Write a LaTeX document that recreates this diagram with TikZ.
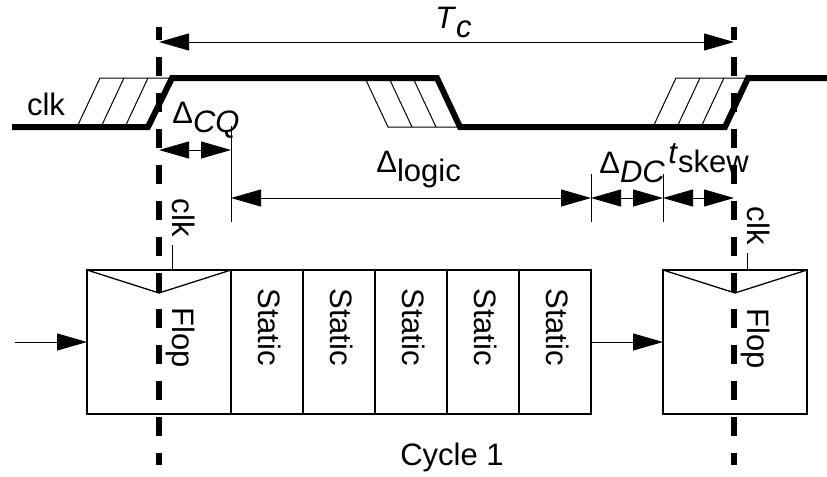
\documentclass[tikz,border=0pt]{standalone}
\usepackage{fontspec}
\setmainfont{Liberation Sans}
\usetikzlibrary{arrows.meta,positioning}

\newcommand{\subtxt}[1]{\raisebox{-4.5pt}{#1}}

\begin{document}
\begin{tikzpicture}[x=0.5pt, y=-0.5pt, node distance=0pt, font=\fontsize{15.5}{18}\selectfont]
  % Define styles
  \tikzstyle{block} = [rectangle, draw, line width=0.65pt, outer sep=0pt, inner sep=0pt, minimum width=36pt, minimum height=72pt]
  \tikzstyle{flop} = [block, minimum width=72pt]
  \tikzstyle{vtext} = [rotate=-90, inner sep=0pt]
  \tikzstyle{label} = [anchor=base west, inner sep=0pt]
  \tikzstyle{line} = [draw, -{Triangle[length=15pt,width=8.5pt]}, line width=0.5pt]
  \tikzstyle{dim} = [draw, {Triangle[length=15pt,width=8.5pt]}-{Triangle[length=15pt,width=8.5pt]}, line width=0.5pt]
  \tikzstyle{wave} = [draw, line width=3pt]
  \tikzstyle{hatch} = [draw, line width=0.5pt]
  \tikzstyle{clkedge} = [draw, line width=3.25pt, dash pattern=on 9.5pt off 8.5pt, dash phase=3pt]

  \useasboundingbox (0,0) rectangle (827,477);

  % Place nodes
  \node [flop] (flop1) at (159,342) {};
  \node [block, right=of flop1] (static1) {};
  \node [block, right=of static1] (static2) {};
  \node [block, right=of static2] (static3) {};
  \node [block, right=of static3] (static4) {};
  \node [block, right=of static4] (static5) {};
  \node [flop] (flop2) at (735,342) {};

  \node [vtext, anchor=west] (flopA) at ([xshift=11pt,yshift=-18.5pt]flop1.north) {Flop};
  \node [vtext, anchor=west] (flopB) at ([xshift=10.5pt,yshift=-19pt]flop2.north) {Flop};
  \node [vtext, anchor=west] (lbl1) at ([xshift=1.5pt,yshift=-9pt]static1.north) {Static};
  \node [vtext, anchor=west] (lbl2) at ([xshift=1.5pt,yshift=-9pt]static2.north) {Static};
  \node [vtext, anchor=west] (lbl3) at ([xshift=1.5pt,yshift=-9pt]static3.north) {Static};
  \node [vtext, anchor=west] (lbl4) at ([xshift=1.5pt,yshift=-9pt]static4.north) {Static};
  \node [vtext, anchor=west] (lbl5) at ([xshift=1.5pt,yshift=-9pt]static5.north) {Static};
  \node [vtext, anchor=south east] (ckinA) at ([xshift=6.5pt,yshift=16.5pt]flop1.north) {clk};
  \node [vtext, anchor=south east] (ckinB) at ([xshift=6pt,yshift=12.5pt]flop2.north) {clk};

  \node (clk) at (46,104) {clk};
  \node [label] (tc) at (435,28) {\textit{T}\subtxt{\textit{c}}};
  \node [label] (dcq) at (172,123) {Δ\subtxt{\textit{CQ}}};
  \node [label] (dlogic) at (376,172) {Δ\subtxt{logic}};
  \node [label] (ddc) at (599,173) {Δ\subtxt{\textit{DC}}};
  \node [label] (tskew) at (668,163) {\textit{t}\subtxt{skew}};
  \node (cycle) at (452,457) {Cycle 1};

  \coordinate (in) at (15,342);
  \coordinate (ckAtop) at (159,27);
  \coordinate (ckAbot) at (159,465);
  \coordinate (ckBtop) at (734,27);
  \coordinate (ckBbot) at (734,465);
  \coordinate (tcL) at (159,42);
  \coordinate (tcR) at (734,42);
  \coordinate (cqL) at (159,150);
  \coordinate (cqR) at (231,150);
  \coordinate (cqTop) at (231,126);
  \coordinate (cqBot) at (231,222);
  \coordinate (dcL) at (591,198);
  \coordinate (dcTop) at (591,174);
  \coordinate (dcBot) at (591,222);
  \coordinate (skL) at (663,198);
  \coordinate (skTop) at (663,174);
  \coordinate (skBot) at (663,222);
  \coordinate (skR) at (734,198);

  % Clock waveform
  \draw [wave] (12,127) -- (148,127) -- (172,78) -- (437,78) -- (460,127) -- (725,127) -- (748,78) -- (827,78);
  \draw [hatch] (77,127) -- (100,78) -- (172,78) (101,127) -- (124,78) (125,127) -- (148,78);
  \draw [hatch] (365,78) -- (388,127) -- (460,127) (389,78) -- (412,127) (413,78) -- (436,127);
  \draw [hatch] (653,127) -- (676,78) -- (748,78) (677,127) -- (700,78) (701,127) -- (724,78);

  % Flop clock inputs
  \draw [line width=0.65pt] (flop1.north west) -- ([yshift=-11.5pt]flop1.north) -- (flop1.north east);
  \draw [line width=0.65pt] (flop2.north west) -- ([yshift=-11.5pt]flop2.north) -- (flop2.north east);
  \draw [line width=0.5pt] ([yshift=-4pt]ckinA.south east) -- (ckinA.south east |- flop1.north);
  \draw [line width=0.5pt] ([yshift=-4pt]ckinB.south east) -- (ckinB.south east |- flop2.north);

  % Draw timing dimensions
  \path [dim] (tcL) -- (tcR);
  \path [dim] (cqL) -- (cqR);
  \draw [line width=0.5pt] (cqTop) -- (cqBot);
  \draw [line width=0.5pt] (dcTop) -- (dcBot);
  \draw [line width=0.5pt] (skTop) -- (skBot);
  \path [dim] (cqR |- dcL) -- (dcL);
  \path [dim] (dcL) -- (skL);
  \path [dim] (skL) -- (skR);

  % Data path
  \path [line] (in) -- (flop1.west);
  \path [line] (static5.east) -- (flop2.west);

  % Clock edges
  \path [clkedge] (ckAtop) -- (ckAbot);
  \path [clkedge] (ckBtop) -- (ckBbot);
\end{tikzpicture}
\end{document}
